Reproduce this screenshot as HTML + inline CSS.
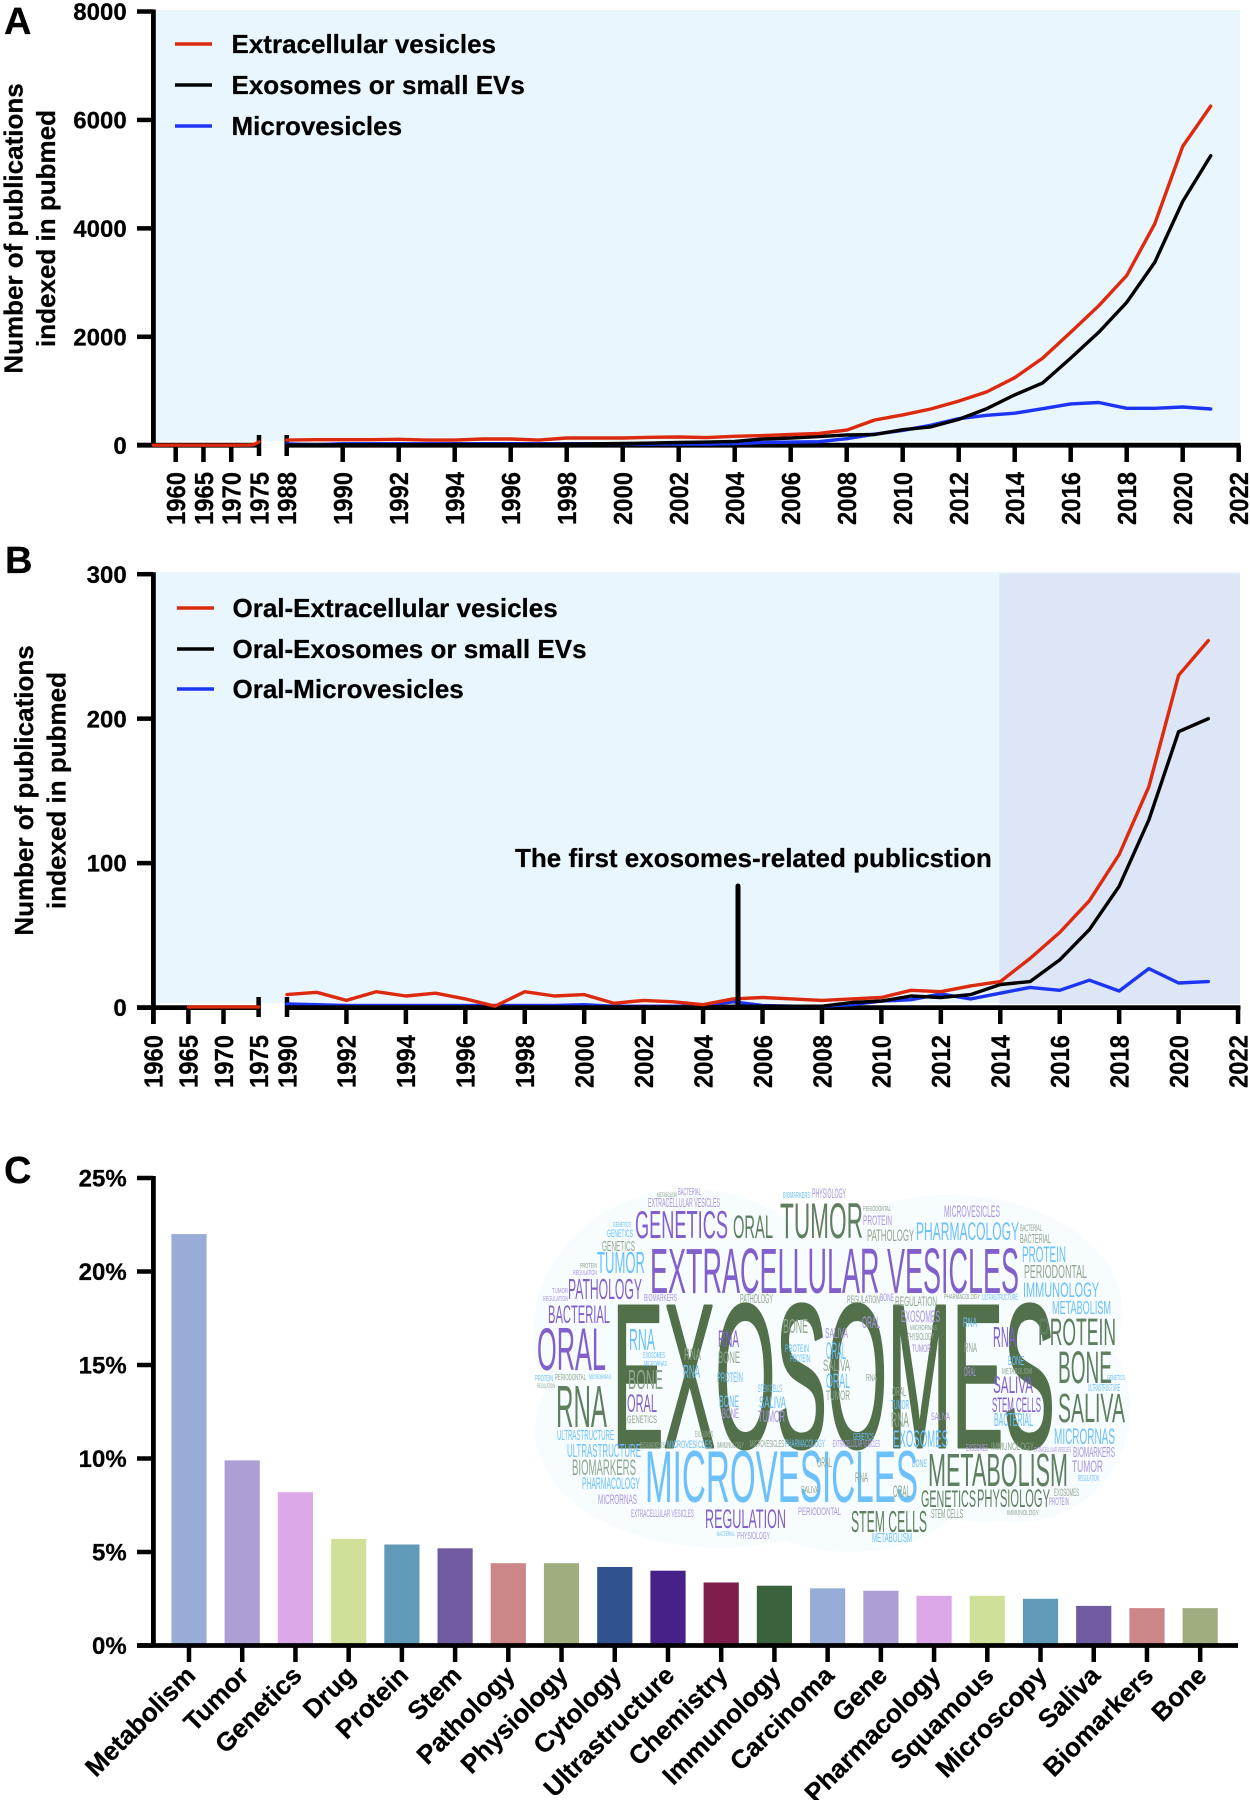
<!DOCTYPE html>
<html lang="en">
<head>
<meta charset="utf-8">
<title>Publications on extracellular vesicles</title>
<style>
html,body{margin:0;padding:0;background:#fff}
svg{display:block}
text{font-family:"Liberation Sans",Arial,sans-serif;font-weight:700;fill:#000;stroke:#000;stroke-width:.25px}
.t{font-size:26px}
.w text{font-family:"Liberation Sans Narrow","Liberation Sans",sans-serif;font-weight:400;stroke:none}
.p{fill:#8260cc}.q{fill:#a995e0}.g{fill:#5f7f5f}.h{fill:#8ea68e}.b{fill:#6cc0fb}
.w text.x{fill:#52704a;stroke:#52704a;stroke-width:3px;stroke-linejoin:round}
</style>
</head>
<body>
<svg id="fig" xmlns="http://www.w3.org/2000/svg" width="1250" height="1800" viewBox="0 0 1250 1800">
<g id="panel-a">
<rect x="155" y="10" width="1085" height="431" fill="#eaf6fd"/>
<g id="a-axes"></g>
<g id="a-lines"></g>
<text x="4" y="34" font-size="38">A</text>
<text class="t" text-anchor="middle" transform="translate(22.5 228.5) rotate(-90)">Number of publications</text>
<text class="t" text-anchor="middle" transform="translate(55 228.5) rotate(-90)">indexed in pubmed</text>
<g>
<line x1="175" x2="212" y1="44" y2="44" stroke="#dd2a0e" stroke-width="3.4"/>
<text class="t" x="231.5" y="53">Extracellular vesicles</text>
<line x1="175" x2="212" y1="85" y2="85" stroke="#000" stroke-width="3.4"/>
<text class="t" x="231.5" y="94">Exosomes or small EVs</text>
<line x1="175" x2="212" y1="126" y2="126" stroke="#1c35f5" stroke-width="3.4"/>
<text class="t" x="231.5" y="135">Microvesicles</text>
</g>
</g>
<g id="panel-b">
<rect x="155" y="572" width="1085" height="431" fill="#eaf6fd"/>
<rect x="999.5" y="573.5" width="240.5" height="430.5" fill="#dce6f6"/>
<g id="b-axes"></g>
<g id="b-lines"></g>
<text x="5" y="573" font-size="38">B</text>
<text class="t" text-anchor="middle" transform="translate(33 790.5) rotate(-90)">Number of publications</text>
<text class="t" text-anchor="middle" transform="translate(65.5 790.5) rotate(-90)">indexed in pubmed</text>
<g>
<line x1="177" x2="214" y1="608" y2="608" stroke="#dd2a0e" stroke-width="3.4"/>
<text class="t" x="232.5" y="617">Oral-Extracellular vesicles</text>
<line x1="177" x2="214" y1="649" y2="649" stroke="#000" stroke-width="3.4"/>
<text class="t" x="232.5" y="658">Oral-Exosomes or small EVs</text>
<line x1="177" x2="214" y1="689" y2="689" stroke="#1c35f5" stroke-width="3.4"/>
<text class="t" x="232.5" y="698">Oral-Microvesicles</text>
</g>
<text class="t" x="515" y="867">The first exosomes-related publicstion</text>
<line x1="738" x2="738" y1="886" y2="1007" stroke="#000" stroke-width="5" stroke-linecap="round"/>
</g>
<g id="panel-c">
<text x="4" y="1183" font-size="38">C</text>
<g id="c-bars"></g>
<g id="c-axes"></g>
</g>
<g class="w">
<g fill="#f7fcff">
<ellipse cx="690" cy="1335" rx="157" ry="146"/>
<ellipse cx="950" cy="1310" rx="172" ry="115"/>
<ellipse cx="1020" cy="1410" rx="110" ry="112"/>
<ellipse cx="720" cy="1430" rx="185" ry="118"/>
<ellipse cx="850" cy="1480" rx="120" ry="72"/>
<ellipse cx="985" cy="1452" rx="120" ry="70"/>
</g>
<text class="x" x="612" y="1447" font-size="205" textLength="443" lengthAdjust="spacingAndGlyphs">EXOSOMES</text>
<text class="p" x="650" y="1293" font-size="64" textLength="369" lengthAdjust="spacingAndGlyphs">EXTRACELLULAR VESICLES</text>
<text class="b" x="645" y="1502" font-size="73" textLength="273" lengthAdjust="spacingAndGlyphs">MICROVESICLES</text>
<text class="g" x="928" y="1486" font-size="46" textLength="140" lengthAdjust="spacingAndGlyphs">METABOLISM</text>
<text class="p" x="635" y="1238" font-size="39" textLength="93" lengthAdjust="spacingAndGlyphs">GENETICS</text>
<text class="g" x="733" y="1238" font-size="32" textLength="40" lengthAdjust="spacingAndGlyphs">ORAL</text>
<text class="g" x="780" y="1238" font-size="50" textLength="83" lengthAdjust="spacingAndGlyphs">TUMOR</text>
<text class="p" x="537" y="1370" font-size="60" textLength="69" lengthAdjust="spacingAndGlyphs">ORAL</text>
<text class="g" x="556" y="1427" font-size="59" textLength="51" lengthAdjust="spacingAndGlyphs">RNA</text>
<text class="q" x="648" y="1207" font-size="13" textLength="72" lengthAdjust="spacingAndGlyphs">EXTRACELLULAR VESICLES</text>
<text class="b" x="597" y="1273" font-size="31" textLength="48" lengthAdjust="spacingAndGlyphs">TUMOR</text>
<text class="h" x="602" y="1251" font-size="15" textLength="33" lengthAdjust="spacingAndGlyphs">GENETICS</text>
<text class="b" x="607" y="1237" font-size="11" textLength="26" lengthAdjust="spacingAndGlyphs">GENETICS</text>
<text class="b" x="613" y="1227" font-size="7" textLength="18" lengthAdjust="spacingAndGlyphs">GENETICS</text>
<text class="p" x="568" y="1299" font-size="29" textLength="74" lengthAdjust="spacingAndGlyphs">PATHOLOGY</text>
<text class="p" x="548" y="1323" font-size="25" textLength="62" lengthAdjust="spacingAndGlyphs">BACTERIAL</text>
<text class="b" x="629" y="1350" font-size="31" textLength="26" lengthAdjust="spacingAndGlyphs">RNA</text>
<text class="h" x="628" y="1389" font-size="28" textLength="35" lengthAdjust="spacingAndGlyphs">BONE</text>
<text class="p" x="627" y="1412" font-size="25" textLength="30" lengthAdjust="spacingAndGlyphs">ORAL</text>
<text class="h" x="627" y="1423" font-size="11" textLength="30" lengthAdjust="spacingAndGlyphs">GENETICS</text>
<text class="b" x="557" y="1440" font-size="15" textLength="57" lengthAdjust="spacingAndGlyphs">ULTRASTRUCTURE</text>
<text class="b" x="567" y="1457" font-size="18" textLength="74" lengthAdjust="spacingAndGlyphs">ULTRASTRUCTURE</text>
<text class="h" x="572" y="1475" font-size="22" textLength="64" lengthAdjust="spacingAndGlyphs">BIOMARKERS</text>
<text class="b" x="582" y="1489" font-size="17" textLength="58" lengthAdjust="spacingAndGlyphs">PHARMACOLOGY</text>
<text class="q" x="598" y="1504" font-size="14" textLength="39" lengthAdjust="spacingAndGlyphs">MICRORNAS</text>
<text class="q" x="631" y="1517" font-size="11" textLength="63" lengthAdjust="spacingAndGlyphs">EXTRACELLULAR VESICLES</text>
<text class="b" x="667" y="1448" font-size="11" textLength="45" lengthAdjust="spacingAndGlyphs">MICROVESICLES</text>
<text class="p" x="705" y="1528" font-size="27" textLength="81" lengthAdjust="spacingAndGlyphs">REGULATION</text>
<text class="q" x="798" y="1515" font-size="11" textLength="43" lengthAdjust="spacingAndGlyphs">PERIODONTAL</text>
<text class="g" x="921" y="1507" font-size="24" textLength="55" lengthAdjust="spacingAndGlyphs">GENETICS</text>
<text class="g" x="977" y="1507" font-size="25" textLength="73" lengthAdjust="spacingAndGlyphs">PHYSIOLOGY</text>
<text class="g" x="851" y="1532" font-size="31" textLength="76" lengthAdjust="spacingAndGlyphs">STEM CELLS</text>
<text class="b" x="893" y="1447" font-size="24" textLength="55" lengthAdjust="spacingAndGlyphs">EXOSOMES</text>
<text class="b" x="1054" y="1444" font-size="22" textLength="61" lengthAdjust="spacingAndGlyphs">MICRORNAS</text>
<text class="q" x="1073" y="1457" font-size="15" textLength="42" lengthAdjust="spacingAndGlyphs">BIOMARKERS</text>
<text class="q" x="1072" y="1472" font-size="17" textLength="31" lengthAdjust="spacingAndGlyphs">TUMOR</text>
<text class="g" x="1058" y="1422" font-size="41" textLength="67" lengthAdjust="spacingAndGlyphs">SALIVA</text>
<text class="p" x="993" y="1393" font-size="24" textLength="40" lengthAdjust="spacingAndGlyphs">SALIVA</text>
<text class="p" x="992" y="1412" font-size="21" textLength="49" lengthAdjust="spacingAndGlyphs">STEM CELLS</text>
<text class="b" x="994" y="1426" font-size="18" textLength="39" lengthAdjust="spacingAndGlyphs">BACTERIAL</text>
<text class="g" x="1058" y="1383" font-size="45" textLength="54" lengthAdjust="spacingAndGlyphs">BONE</text>
<text class="g" x="1038" y="1345" font-size="38" textLength="78" lengthAdjust="spacingAndGlyphs">PROTEIN</text>
<text class="b" x="1052" y="1314" font-size="18" textLength="59" lengthAdjust="spacingAndGlyphs">METABOLISM</text>
<text class="b" x="1023" y="1297" font-size="21" textLength="76" lengthAdjust="spacingAndGlyphs">IMMUNOLOGY</text>
<text class="h" x="1024" y="1278" font-size="18" textLength="63" lengthAdjust="spacingAndGlyphs">PERIODONTAL</text>
<text class="b" x="1022" y="1262" font-size="22" textLength="44" lengthAdjust="spacingAndGlyphs">PROTEIN</text>
<text class="b" x="916" y="1240" font-size="25" textLength="103" lengthAdjust="spacingAndGlyphs">PHARMACOLOGY</text>
<text class="q" x="944" y="1217" font-size="17" textLength="56" lengthAdjust="spacingAndGlyphs">MICROVESICLES</text>
<text class="h" x="867" y="1241" font-size="17" textLength="47" lengthAdjust="spacingAndGlyphs">PATHOLOGY</text>
<text class="q" x="863" y="1225" font-size="14" textLength="29" lengthAdjust="spacingAndGlyphs">PROTEIN</text>
<text class="h" x="1020" y="1243" font-size="13" textLength="31" lengthAdjust="spacingAndGlyphs">BACTERIAL</text>
<text class="h" x="1020" y="1231" font-size="9" textLength="22" lengthAdjust="spacingAndGlyphs">BACTERIAL</text>
<text class="h" x="895" y="1306" font-size="14" textLength="42" lengthAdjust="spacingAndGlyphs">REGULATION</text>
<text class="q" x="901" y="1322" font-size="17" textLength="39" lengthAdjust="spacingAndGlyphs">EXOSOMES</text>
<text class="h" x="910" y="1330" font-size="7" textLength="27" lengthAdjust="spacingAndGlyphs">MICRORNAS</text>
<text class="h" x="907" y="1340" font-size="10" textLength="27" lengthAdjust="spacingAndGlyphs">PHYSIOLOGY</text>
<text class="q" x="912" y="1352" font-size="11" textLength="19" lengthAdjust="spacingAndGlyphs">TUMOR</text>
<text class="p" x="993" y="1347" font-size="29" textLength="23" lengthAdjust="spacingAndGlyphs">RNA</text>
<text class="b" x="1008" y="1365" font-size="13" textLength="16" lengthAdjust="spacingAndGlyphs">BONE</text>
<text class="q" x="862" y="1328" font-size="17" textLength="18" lengthAdjust="spacingAndGlyphs">ORAL</text>
<text class="b" x="963" y="1327" font-size="14" textLength="14" lengthAdjust="spacingAndGlyphs">RNA</text>
<text class="h" x="964" y="1352" font-size="13" textLength="13" lengthAdjust="spacingAndGlyphs">RNA</text>
<text class="h" x="866" y="1381" font-size="10" textLength="11" lengthAdjust="spacingAndGlyphs">RNA</text>
<text class="q" x="964" y="1376" font-size="13" textLength="12" lengthAdjust="spacingAndGlyphs">ORAL</text>
<text class="h" x="718" y="1363" font-size="17" textLength="22" lengthAdjust="spacingAndGlyphs">BONE</text>
<text class="p" x="718" y="1347" font-size="24" textLength="21" lengthAdjust="spacingAndGlyphs">RNA</text>
<text class="b" x="717" y="1382" font-size="14" textLength="26" lengthAdjust="spacingAndGlyphs">PROTEIN</text>
<text class="b" x="719" y="1407" font-size="17" textLength="20" lengthAdjust="spacingAndGlyphs">BONE</text>
<text class="q" x="722" y="1418" font-size="14" textLength="17" lengthAdjust="spacingAndGlyphs">BONE</text>
<text class="h" x="684" y="1360" font-size="17" textLength="17" lengthAdjust="spacingAndGlyphs">RNA</text>
<text class="b" x="683" y="1378" font-size="18" textLength="17" lengthAdjust="spacingAndGlyphs">RNA</text>
<text class="b" x="758" y="1392" font-size="11" textLength="24" lengthAdjust="spacingAndGlyphs">STEM CELLS</text>
<text class="b" x="759" y="1408" font-size="17" textLength="27" lengthAdjust="spacingAndGlyphs">SALIVA</text>
<text class="q" x="758" y="1422" font-size="17" textLength="27" lengthAdjust="spacingAndGlyphs">TUMOR</text>
<text class="b" x="785" y="1352" font-size="11" textLength="24" lengthAdjust="spacingAndGlyphs">PROTEIN</text>
<text class="b" x="790" y="1362" font-size="11" textLength="20" lengthAdjust="spacingAndGlyphs">PROTEIN</text>
<text class="h" x="783" y="1333" font-size="20" textLength="25" lengthAdjust="spacingAndGlyphs">BONE</text>
<text class="b" x="826" y="1359" font-size="24" textLength="20" lengthAdjust="spacingAndGlyphs">ORAL</text>
<text class="b" x="826" y="1388" font-size="21" textLength="24" lengthAdjust="spacingAndGlyphs">ORAL</text>
<text class="h" x="823" y="1371" font-size="17" textLength="27" lengthAdjust="spacingAndGlyphs">SALIVA</text>
<text class="q" x="825" y="1338" font-size="15" textLength="23" lengthAdjust="spacingAndGlyphs">SALIVA</text>
<text class="h" x="826" y="1400" font-size="14" textLength="24" lengthAdjust="spacingAndGlyphs">TUMOR</text>
<text class="h" x="891" y="1427" font-size="21" textLength="18" lengthAdjust="spacingAndGlyphs">RNA</text>
<text class="b" x="891" y="1409" font-size="13" textLength="18" lengthAdjust="spacingAndGlyphs">TUMOR</text>
<text class="h" x="892" y="1396" font-size="13" textLength="14" lengthAdjust="spacingAndGlyphs">ORAL</text>
<text class="q" x="931" y="1420" font-size="11" textLength="19" lengthAdjust="spacingAndGlyphs">SALIVA</text>
<text class="h" x="817" y="1467" font-size="14" textLength="15" lengthAdjust="spacingAndGlyphs">ORAL</text>
<text class="h" x="801" y="1493" font-size="10" textLength="18" lengthAdjust="spacingAndGlyphs">SALIVA</text>
<text class="h" x="855" y="1482" font-size="14" textLength="13" lengthAdjust="spacingAndGlyphs">RNA</text>
<text class="h" x="893" y="1497" font-size="17" textLength="17" lengthAdjust="spacingAndGlyphs">ORAL</text>
<text class="b" x="912" y="1467" font-size="11" textLength="15" lengthAdjust="spacingAndGlyphs">BONE</text>
<text class="h" x="931" y="1518" font-size="13" textLength="32" lengthAdjust="spacingAndGlyphs">STEM CELLS</text>
<text class="h" x="1054" y="1496" font-size="11" textLength="25" lengthAdjust="spacingAndGlyphs">EXOSOMES</text>
<text class="q" x="1049" y="1505" font-size="11" textLength="20" lengthAdjust="spacingAndGlyphs">PROTEIN</text>
<text class="h" x="1007" y="1515" font-size="7" textLength="32" lengthAdjust="spacingAndGlyphs">IMMUNOLOGY</text>
<text class="h" x="991" y="1450" font-size="11" textLength="43" lengthAdjust="spacingAndGlyphs">IMMUNOLOGY</text>
<text class="q" x="966" y="1451" font-size="10" textLength="22" lengthAdjust="spacingAndGlyphs">EXOSOMES</text>
<text class="q" x="1034" y="1452" font-size="7" textLength="37" lengthAdjust="spacingAndGlyphs">EXTRACELLULAR VESICLES</text>
<text class="q" x="833" y="1447" font-size="10" textLength="47" lengthAdjust="spacingAndGlyphs">EXTRACELLULAR VESICLES</text>
<text class="b" x="853" y="1440" font-size="10" textLength="21" lengthAdjust="spacingAndGlyphs">GENETICS</text>
<text class="b" x="872" y="1542" font-size="13" textLength="40" lengthAdjust="spacingAndGlyphs">METABOLISM</text>
<text class="b" x="1078" y="1481" font-size="8" textLength="21" lengthAdjust="spacingAndGlyphs">REGULATION</text>
<text class="q" x="812" y="1198" font-size="14" textLength="34" lengthAdjust="spacingAndGlyphs">PHYSIOLOGY</text>
<text class="b" x="783" y="1198" font-size="8" textLength="27" lengthAdjust="spacingAndGlyphs">BIOMARKERS</text>
<text class="q" x="678" y="1195" font-size="10" textLength="23" lengthAdjust="spacingAndGlyphs">BACTERIAL</text>
<text class="h" x="657" y="1197" font-size="6" textLength="20" lengthAdjust="spacingAndGlyphs">METABOLISM</text>
<text class="h" x="863" y="1211" font-size="7" textLength="28" lengthAdjust="spacingAndGlyphs">PERIODONTAL</text>
<text class="h" x="640" y="1448" font-size="8" textLength="25" lengthAdjust="spacingAndGlyphs">BIOMARKERS</text>
<text class="h" x="717" y="1448" font-size="8" textLength="27" lengthAdjust="spacingAndGlyphs">IMMUNOLOGY</text>
<text class="h" x="750" y="1447" font-size="10" textLength="34" lengthAdjust="spacingAndGlyphs">MICROVESICLES</text>
<text class="b" x="785" y="1447" font-size="11" textLength="40" lengthAdjust="spacingAndGlyphs">PHARMACOLOGY</text>
<text class="h" x="695" y="1437" font-size="8" textLength="18" lengthAdjust="spacingAndGlyphs">EXOSOMES</text>
<text class="b" x="717" y="1536" font-size="6" textLength="18" lengthAdjust="spacingAndGlyphs">BACTERIAL</text>
<text class="q" x="737" y="1539" font-size="10" textLength="33" lengthAdjust="spacingAndGlyphs">PHYSIOLOGY</text>
<text class="h" x="740" y="1303" font-size="13" textLength="33" lengthAdjust="spacingAndGlyphs">PATHOLOGY</text>
<text class="q" x="644" y="1301" font-size="10" textLength="33" lengthAdjust="spacingAndGlyphs">BIOMARKERS</text>
<text class="h" x="847" y="1303" font-size="11" textLength="33" lengthAdjust="spacingAndGlyphs">REGULATION</text>
<text class="h" x="944" y="1299" font-size="7" textLength="36" lengthAdjust="spacingAndGlyphs">PHARMACOLOGY</text>
<text class="b" x="982" y="1300" font-size="8" textLength="36" lengthAdjust="spacingAndGlyphs">ULTRASTRUCTURE</text>
<text class="q" x="880" y="1301" font-size="11" textLength="14" lengthAdjust="spacingAndGlyphs">BONE</text>
<text class="b" x="643" y="1358" font-size="8" textLength="22" lengthAdjust="spacingAndGlyphs">EXOSOMES</text>
<text class="b" x="644" y="1366" font-size="7" textLength="23" lengthAdjust="spacingAndGlyphs">MICRORNAS</text>
<text class="b" x="535" y="1381" font-size="8" textLength="18" lengthAdjust="spacingAndGlyphs">PROTEIN</text>
<text class="h" x="555" y="1380" font-size="8" textLength="31" lengthAdjust="spacingAndGlyphs">PERIODONTAL</text>
<text class="b" x="589" y="1379" font-size="6" textLength="22" lengthAdjust="spacingAndGlyphs">MICRORNAS</text>
<text class="h" x="537" y="1388" font-size="6" textLength="18" lengthAdjust="spacingAndGlyphs">REGULATION</text>
<text class="q" x="552" y="1293" font-size="7" textLength="16" lengthAdjust="spacingAndGlyphs">TUMOR</text>
<text class="q" x="543" y="1301" font-size="7" textLength="25" lengthAdjust="spacingAndGlyphs">REGULATION</text>
<text class="h" x="580" y="1268" font-size="7" textLength="17" lengthAdjust="spacingAndGlyphs">PROTEIN</text>
<text class="q" x="573" y="1275" font-size="7" textLength="24" lengthAdjust="spacingAndGlyphs">REGULATION</text>
<text class="b" x="1088" y="1391" font-size="10" textLength="32" lengthAdjust="spacingAndGlyphs">ULTRASTRUCTURE</text>
<text class="b" x="1107" y="1380" font-size="7" textLength="18" lengthAdjust="spacingAndGlyphs">GENETICS</text>
<text class="h" x="1002" y="1374" font-size="8" textLength="30" lengthAdjust="spacingAndGlyphs">METABOLISM</text>
</g>
</svg>
<script>
// ---- Panel A data ----
const yearsEarlyA = [1956, 1960, 1965, 1970, 1973, 1974, 1975];
const evEarlyA = [0, 0, 0, 0, 3, 8, 60];
const exoEarlyA = [0, 0, 0, 0, 0, 0, 0];
const mvEarlyA = [0, 0, 0, 0, 0, 0, 0];
const yearsLateA = [1988,1989,1990,1991,1992,1993,1994,1995,1996,1997,1998,1999,2000,2001,2002,2003,2004,2005,2006,2007,2008,2009,2010,2011,2012,2013,2014,2015,2016,2017,2018,2019,2020,2021];
const evLateA = [95,102,102,102,108,95,95,114,114,95,133,133,133,146,152,140,165,178,197,216,279,464,559,667,813,984,1245,1607,2083,2572,3130,4083,5512,6255];
const exoLateA = [5,5,8,8,10,10,12,12,14,15,18,25,32,38,50,57,70,114,133,159,190,197,286,337,476,673,927,1149,1607,2083,2635,3372,4496,5340];
const mvLateA = [25,10,28,28,28,28,28,28,28,28,28,28,25,20,20,20,32,50,57,64,120,203,273,368,489,552,590,673,762,787,680,680,705,667];
const xTicksA = [1960,1965,1970,1975,1988,1990,1992,1994,1996,1998,2000,2002,2004,2006,2008,2010,2012,2014,2016,2018,2020,2022];
const yTicksA = [0,2000,4000,6000,8000];
// ---- Panel B data ----
const yearsEarlyB = [1965, 1970, 1975];
const evEarlyB = [0.5, 0.5, 0.5];
const yearsLateB = [1990,1991,1992,1993,1994,1995,1996,1997,1998,1999,2000,2001,2002,2003,2004,2005,2006,2007,2008,2009,2010,2011,2012,2013,2014,2015,2016,2017,2018,2019,2020,2021];
const evLateB = [9,10.6,5,11,8,10,6,1,11,8,9,3,5,4,2,6,7,6,5,6,7,12,11,15,18,34,52,74,106,153,230,254];
const exoLateB = [0.5,0.5,0.5,0.5,0.5,0.5,0.5,0.5,0.5,0.5,0.5,0.5,0.5,0.5,0.5,1,1,1,1,3.5,4.5,8,7,9,16,18,33,54,84,130,191,200];
const mvLateB = [2.5,2,1.5,1.5,1.5,1.5,1.5,1.5,1.5,1.5,2,1,1,1,1,4,1.5,1,1,2,4.5,5.5,9.5,6,10,14,12,19,11.5,27,17,18];
const xTicksB = [1960,1965,1970,1975,1990,1992,1994,1996,1998,2000,2002,2004,2006,2008,2010,2012,2014,2016,2018,2020,2022];
const yTicksB = [0,100,200,300];
// ---- Panel C data ----
const categoriesC = ["Metabolism","Tumor","Genetics","Drug","Protein","Stem","Pathology","Physiology","Cytology","Ultrastructure","Chemistry","Immunology","Carcinoma","Gene","Pharmacology","Squamous","Microscopy","Saliva","Biomarkers","Bone"];
const percentC = [22.0,9.9,8.2,5.7,5.4,5.2,4.4,4.4,4.2,4.0,3.37,3.2,3.06,2.93,2.66,2.66,2.5,2.12,2.0,2.0];
const barColorsC = ["#97add8","#ad9ed6","#dda8ea","#cfe098","#619ab9","#6f5ca0","#cd8687","#a0ae7f","#30538f","#47208a","#7f1d4d","#3a623c","#97add8","#ad9ed6","#dda8ea","#cfe098","#619ab9","#6f5ca0","#cd8687","#a0ae7f"];
const yTicksC = [0,5,10,15,20,25];

const NS = "http://www.w3.org/2000/svg";
function mk(tag, parent, attrs, txt) {
  const el = document.createElementNS(NS, tag);
  for (const k in attrs) el.setAttribute(k, attrs[k]);
  if (txt !== undefined) el.textContent = txt;
  parent.appendChild(el);
  return el;
}
function hline(parent, x1, x2, y, w) { return mk('line', parent, {x1:x1, x2:x2, y1:y, y2:y, stroke:'#000', 'stroke-width':w}); }
function vline(parent, x, y1, y2, w) { return mk('line', parent, {x1:x, x2:x, y1:y1, y2:y2, stroke:'#000', 'stroke-width':w}); }

// axis functions
const xA = yr => yr >= 1988 ? 342.7 + (yr - 1990) * 28 : 175.7 + (yr - 1960) * 5.553;
const yA = v => 445.2 - v * 0.05421;
const xB = yr => yr >= 1990 ? 287 + (yr - 1990) * 29.72 : 153.3 + (yr - 1960) * 7.02;
const yB = v => 1007.6 - v * 1.4447;
const xC = i => 189 + i * 53.22;
const yC = v => 1645.5 - v * 18.7;

function drawSeries(parent, name, color, xs, vals, xf, yf) {
  const d = xs.map((yr, i) => (i ? 'L' : 'M') + xf(yr).toFixed(1) + ' ' + yf(vals[i]).toFixed(1)).join('');
  const el = mk('path', parent, {d:d, fill:'none', stroke:color, 'stroke-width':3.4, 'stroke-linejoin':'round', 'stroke-linecap':'round'});
  
  
}

function drawAxes(parent, prefix, xTicks, yTicks, xf, yf, brk, yAxisBase, labelTop, tickEnd, breakTop, breakEnd) {
  let el = vline(parent, 153.4, yf(yTicks[yTicks.length - 1]) - 2, yAxisBase, 4.8);
  
  
  el = hline(parent, 137, xf(1975) + 2, yf(0), 4.8);
  
  
  el = hline(parent, xf(brk) - 2, 1240.5, yf(0), 4.8);
  
  
  yTicks.forEach(v => {
    const t = hline(parent, 137, 153, yf(v), 4.5);
    
    
    const l = mk('text', parent, {x:126.7, y:yf(v) + 8.6, 'text-anchor':'end', 'font-size':24}, String(v));
    
    
  });
  xTicks.forEach(yr => {
    const isBreak = yr === 1975 || yr === brk;
    const x = xf(yr);
    const t = vline(parent, x, isBreak ? breakTop : yf(0), isBreak ? breakEnd : tickEnd, 4.5);
    
    
    const l = mk('text', parent, {'text-anchor':'end', 'font-size':26, textLength:53, lengthAdjust:'spacingAndGlyphs', transform:'translate(' + (x + 9.3).toFixed(1) + ' ' + labelTop + ') rotate(-90)'}, String(yr));
    
    
  });
}

// Panel A
drawAxes(document.getElementById('a-axes'), 'panel-a', xTicksA, yTicksA, xA, yA, 1988, 447, 472, 462, 435, 456);
const la = document.getElementById('a-lines');
drawSeries(la, 'series-microvesicles-early', '#1c35f5', yearsEarlyA, mvEarlyA, xA, yA);
drawSeries(la, 'series-exosomes-early', '#000', yearsEarlyA, exoEarlyA, xA, yA);
drawSeries(la, 'series-extracellular-vesicles-early', '#dd2a0e', yearsEarlyA, evEarlyA, xA, yA);
drawSeries(la, 'series-microvesicles', '#1c35f5', yearsLateA, mvLateA, xA, yA);
drawSeries(la, 'series-exosomes', '#000', yearsLateA, exoLateA, xA, yA);
drawSeries(la, 'series-extracellular-vesicles', '#dd2a0e', yearsLateA, evLateA, xA, yA);

// Panel B
drawAxes(document.getElementById('b-axes'), 'panel-b', xTicksB, yTicksB, xB, yB, 1990, 1024, 1035, 1024, 997, 1017);
const lb = document.getElementById('b-lines');
drawSeries(lb, 'series-oral-extracellular-vesicles-early', '#dd2a0e', yearsEarlyB, evEarlyB, xB, yB);
drawSeries(lb, 'series-oral-microvesicles', '#1c35f5', yearsLateB, mvLateB, xB, yB);
drawSeries(lb, 'series-oral-exosomes', '#000', yearsLateB, exoLateB, xB, yB);
drawSeries(lb, 'series-oral-extracellular-vesicles', '#dd2a0e', yearsLateB, evLateB, xB, yB);

// Panel C
const cb = document.getElementById('c-bars');
const ca = document.getElementById('c-axes');
percentC.forEach((v, i) => {
  const r = mk('rect', cb, {x:(xC(i) - 17.6).toFixed(1), y:yC(v).toFixed(1), width:35.2, height:(yC(0) - yC(v)).toFixed(1), fill:barColorsC[i]});
  
  
  const t = vline(ca, xC(i), yC(0), 1662, 4.5);
  
  
  const l = mk('text', ca, {'text-anchor':'end', 'font-size':26, transform:'translate(' + (xC(i) + 8).toFixed(1) + ' 1677) rotate(-45)'}, categoriesC[i]);
  
  
});
let cAxisY = vline(ca, 153.4, yC(25) - 2, yC(0) + 2, 4.8);


let cAxisX = hline(ca, 137, 1238, yC(0), 4.8);


yTicksC.forEach(v => {
  const t = hline(ca, 137, 153, yC(v), 4.5);
  
  
  const l = mk('text', ca, {x:126.7, y:yC(v) + 8.6, 'text-anchor':'end', 'font-size':24}, v + '%');
  
  
});
</script>
</body>
</html>
